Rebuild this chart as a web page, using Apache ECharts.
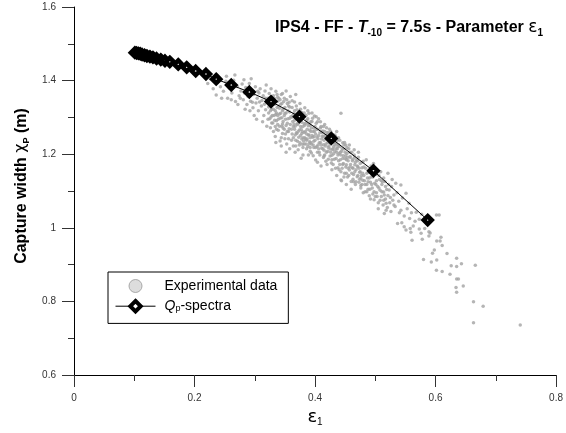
<!DOCTYPE html>
<html>
<head>
<meta charset="utf-8">
<script src="https://cdn.jsdelivr.net/npm/echarts@6/dist/echarts.min.js"></script>
<style>html,body{margin:0;padding:0;background:#fff;}#c{width:566px;height:433px;}</style>
</head>
<body>
<div id="c"></div>
<script>
// Q_p-spectra curve (epsilon_1, capture width)
const qpX = [0.101,0.104,0.107,0.110,0.113,0.117,0.121,0.126,0.131,0.137,0.144,0.151,0.159,0.173,0.187,0.202,0.219,0.236,0.261,0.291,0.327,0.374,0.427,0.497,0.587];
const qpY = [1.476,1.475,1.474,1.473,1.471,1.469,1.467,1.465,1.463,1.460,1.457,1.454,1.451,1.444,1.436,1.426,1.418,1.404,1.388,1.369,1.343,1.302,1.243,1.155,1.021];

const expPoints = [
[0.222,1.392],[0.231,1.378],[0.236,1.361],[0.243,1.383],[0.248,1.371],[0.252,1.398],[0.255,1.352],[0.258,1.379],[0.262,1.366],[0.265,1.401],[0.268,1.343],[0.271,1.384],[0.274,1.359],[0.277,1.372],[0.279,1.391],
[0.226,1.405],[0.238,1.395],[0.245,1.352],[0.253,1.412],[0.261,1.348],[0.267,1.415],[0.272,1.335],[0.282,1.402],[0.294,1.405],
[0.281,1.348],[0.283,1.366],[0.285,1.381],[0.287,1.335],[0.289,1.357],[0.291,1.392],[0.293,1.344],[0.295,1.371],[0.297,1.326],[0.298,1.362],[0.301,1.383],[0.302,1.339],[0.304,1.352],[0.306,1.318],[0.307,1.366],[0.309,1.378],[0.311,1.331],[0.312,1.346],[0.314,1.359],[0.315,1.305],[0.317,1.372],[0.318,1.321],[0.319,1.388],
[0.284,1.322],[0.292,1.318],[0.296,1.341],[0.299,1.305],[0.303,1.295],[0.308,1.342],[0.313,1.288],[0.316,1.336],[0.320,1.276],[0.305,1.371],[0.288,1.375],[0.276,1.352],
[0.321,1.341],[0.322,1.352],[0.323,1.312],[0.324,1.365],[0.325,1.296],[0.326,1.333],[0.327,1.378],[0.328,1.322],[0.329,1.347],[0.330,1.285],[0.331,1.359],[0.332,1.305],[0.333,1.336],[0.334,1.318],[0.335,1.371],[0.336,1.291],[0.337,1.327],[0.338,1.344],[0.339,1.265],[0.340,1.352],[0.341,1.309],[0.342,1.298],[0.343,1.336],[0.344,1.362],[0.345,1.276],[0.346,1.318],[0.347,1.289],[0.348,1.343],[0.349,1.305],[0.350,1.327],[0.351,1.255],[0.352,1.312],[0.353,1.348],[0.354,1.284],[0.355,1.296],[0.356,1.331],[0.357,1.269],[0.358,1.315],[0.359,1.357],[0.360,1.302],
[0.323,1.328],[0.327,1.301],[0.331,1.322],[0.335,1.308],[0.339,1.331],[0.343,1.311],[0.347,1.322],[0.351,1.295],[0.355,1.318],[0.359,1.281],[0.333,1.351],[0.341,1.276],[0.349,1.268],[0.357,1.341],[0.345,1.299],[0.337,1.362],
[0.331,1.262],[0.334,1.248],[0.338,1.281],[0.342,1.236],[0.346,1.256],[0.350,1.242],[0.353,1.228],[0.356,1.262],[0.358,1.215],[0.361,1.238],[0.364,1.222],[0.367,1.205],[0.370,1.256],[0.372,1.212],[0.335,1.232],[0.344,1.222],[0.352,1.205],[0.347,1.271],[0.339,1.295],[0.326,1.272],[0.329,1.305],[0.333,1.292],[0.336,1.312],[0.341,1.325],[0.345,1.338],[0.349,1.352],[0.354,1.338],[0.358,1.328],[0.362,1.345],[0.366,1.292],[0.371,1.298],[0.324,1.345],[0.338,1.355],[0.346,1.365],
[0.318,1.352],[0.322,1.295],[0.326,1.318],[0.330,1.338],[0.334,1.275],[0.338,1.305],[0.342,1.348],[0.346,1.282],[0.350,1.311],[0.354,1.262],[0.358,1.298],[0.362,1.255],[0.366,1.268],[0.370,1.282],[0.374,1.225],[0.378,1.256],[0.382,1.228],[0.386,1.238],[0.390,1.252],[0.394,1.228],[0.398,1.235],
[0.344,1.245],[0.356,1.242],[0.368,1.222],[0.380,1.245],[0.392,1.218],[0.328,1.285],[0.336,1.268],[0.352,1.278],[0.364,1.275],[0.376,1.305],[0.388,1.285],
[0.361,1.268],[0.362,1.327],[0.363,1.289],[0.364,1.245],[0.365,1.311],[0.366,1.342],[0.367,1.276],[0.368,1.298],[0.369,1.258],[0.370,1.321],[0.371,1.235],[0.372,1.284],[0.373,1.305],[0.374,1.266],[0.375,1.338],[0.376,1.251],[0.377,1.292],[0.378,1.313],[0.379,1.227],[0.380,1.275],[0.381,1.301],[0.382,1.259],[0.383,1.326],[0.384,1.242],[0.385,1.284],[0.386,1.215],[0.387,1.268],[0.388,1.296],[0.389,1.252],[0.390,1.311],[0.391,1.234],[0.392,1.278],[0.393,1.262],[0.394,1.203],[0.395,1.289],[0.396,1.246],[0.397,1.225],[0.398,1.271],[0.399,1.304],[0.400,1.238],
[0.363,1.305],[0.367,1.252],[0.371,1.281],[0.375,1.296],[0.379,1.262],[0.383,1.279],[0.387,1.241],[0.391,1.265],[0.395,1.251],[0.399,1.262],[0.365,1.282],[0.369,1.331],[0.373,1.246],[0.377,1.268],[0.381,1.236],[0.385,1.306],[0.389,1.277],[0.393,1.288],[0.397,1.262],[0.362,1.301],[0.366,1.318],[0.374,1.288],[0.378,1.241],[0.382,1.283],[0.386,1.255],[0.390,1.228],[0.394,1.271],[0.398,1.218],[0.368,1.238],[0.376,1.322],[0.384,1.262],[0.392,1.245],[0.368,1.362],[0.352,1.372],
[0.372,1.262],[0.375,1.231],[0.378,1.287],[0.380,1.218],[0.383,1.245],[0.386,1.292],[0.388,1.221],[0.391,1.282],[0.393,1.232],[0.396,1.298],[0.398,1.248],[0.401,1.218],[0.404,1.288],[0.406,1.215],[0.408,1.198],[0.411,1.241],[0.414,1.226],[0.416,1.262],[0.418,1.181],[0.421,1.252],[0.380,1.198],[0.385,1.228],[0.392,1.208],[0.397,1.196],[0.404,1.178],[0.410,1.168],[0.415,1.195],[0.420,1.172],[0.376,1.275],[0.382,1.312],[0.388,1.318],[0.395,1.312],[0.402,1.302],[0.409,1.288],[0.414,1.275],[0.419,1.272],
[0.401,1.255],[0.402,1.284],[0.403,1.221],[0.404,1.268],[0.405,1.242],[0.406,1.296],[0.407,1.205],[0.408,1.258],[0.409,1.232],[0.410,1.275],[0.411,1.216],[0.412,1.249],[0.413,1.263],[0.414,1.191],[0.415,1.238],[0.416,1.281],[0.417,1.222],[0.418,1.247],[0.419,1.205],[0.420,1.259],[0.421,1.232],[0.422,1.186],[0.423,1.241],[0.424,1.268],[0.425,1.214],[0.426,1.228],[0.427,1.253],[0.428,1.197],[0.429,1.235],[0.430,1.172],[0.431,1.221],[0.432,1.246],[0.433,1.208],[0.434,1.231],[0.435,1.188],[0.436,1.262],[0.437,1.215],[0.438,1.163],[0.439,1.226],[0.440,1.201],
[0.403,1.247],[0.407,1.231],[0.411,1.262],[0.415,1.211],[0.419,1.241],[0.423,1.222],[0.427,1.232],[0.431,1.201],[0.435,1.215],[0.439,1.182],[0.405,1.225],[0.409,1.271],[0.413,1.215],[0.417,1.252],[0.421,1.208],[0.425,1.245],[0.429,1.213],[0.433,1.225],[0.437,1.238],[0.443,1.311],[0.443,1.130],[0.377,1.189],[0.401,1.184],[0.389,1.198],
[0.402,1.268],[0.406,1.251],[0.410,1.225],[0.414,1.248],[0.418,1.228],[0.422,1.258],[0.426,1.205],[0.430,1.215],[0.434,1.248],[0.438,1.221],[0.404,1.205],[0.416,1.198],[0.428,1.185],[0.400,1.275],[0.412,1.258],[0.424,1.252],[0.436,1.228],
[0.422,1.218],[0.425,1.195],[0.427,1.176],[0.430,1.232],[0.432,1.186],[0.434,1.162],[0.436,1.205],[0.439,1.245],[0.441,1.172],[0.443,1.152],[0.446,1.188],[0.448,1.138],[0.451,1.165],[0.453,1.218],[0.456,1.142],[0.458,1.205],[0.461,1.148],[0.463,1.132],[0.466,1.192],[0.468,1.125],[0.426,1.262],[0.433,1.252],[0.441,1.238],[0.449,1.232],[0.457,1.225],[0.465,1.212],[0.428,1.158],[0.436,1.142],[0.444,1.128],[0.452,1.118],[0.460,1.105],[0.424,1.232],[0.431,1.238],[0.438,1.198],[0.445,1.215],[0.452,1.185],
[0.441,1.221],[0.442,1.185],[0.444,1.208],[0.445,1.162],[0.446,1.231],[0.447,1.196],[0.448,1.214],[0.449,1.148],[0.450,1.188],[0.451,1.225],[0.452,1.171],[0.453,1.202],[0.454,1.138],[0.455,1.182],[0.456,1.215],[0.457,1.157],[0.458,1.194],[0.459,1.172],[0.460,1.126],[0.461,1.205],[0.462,1.163],[0.463,1.186],[0.464,1.145],[0.465,1.198],[0.466,1.171],[0.467,1.118],[0.468,1.158],[0.469,1.184],[0.470,1.139],[0.471,1.166],[0.472,1.192],[0.473,1.124],[0.474,1.151],[0.475,1.175],[0.476,1.108],[0.477,1.142],[0.478,1.163],[0.479,1.129],[0.480,1.181],
[0.443,1.198],[0.447,1.175],[0.451,1.196],[0.455,1.162],[0.459,1.191],[0.463,1.162],[0.467,1.178],[0.471,1.142],[0.475,1.152],[0.479,1.148],
[0.442,1.205],[0.446,1.172],[0.450,1.205],[0.454,1.191],[0.458,1.165],[0.462,1.182],[0.466,1.152],[0.470,1.168],[0.474,1.132],[0.478,1.178],[0.440,1.158],[0.452,1.148],[0.464,1.125],[0.476,1.115],[0.448,1.225],
[0.471,1.182],[0.473,1.162],[0.476,1.135],[0.478,1.118],[0.481,1.165],[0.483,1.098],[0.486,1.148],[0.488,1.125],[0.491,1.105],[0.493,1.138],[0.496,1.092],[0.498,1.158],[0.501,1.118],[0.503,1.085],[0.506,1.142],[0.508,1.075],[0.511,1.098],[0.514,1.135],[0.517,1.112],[0.521,1.088],[0.524,1.068],[0.527,1.112],[0.472,1.205],[0.485,1.185],[0.497,1.175],[0.509,1.152],[0.480,1.095],[0.492,1.078],[0.505,1.052],[0.518,1.048],
[0.482,1.128],[0.486,1.118],[0.490,1.135],[0.494,1.118],[0.498,1.098],[0.502,1.128],[0.506,1.108],[0.510,1.128],[0.514,1.075],[0.488,1.105],[0.500,1.085],
[0.481,1.142],[0.483,1.118],[0.484,1.162],[0.486,1.098],[0.487,1.135],[0.489,1.151],[0.490,1.087],[0.492,1.124],[0.493,1.168],[0.495,1.108],[0.496,1.138],[0.498,1.076],[0.499,1.121],[0.501,1.145],[0.502,1.095],[0.504,1.112],[0.505,1.068],[0.507,1.131],[0.508,1.102],[0.510,1.085],[0.511,1.118],[0.513,1.062],[0.514,1.097],[0.516,1.126],[0.517,1.078],[0.519,1.104],[0.520,1.055],
[0.512,1.125],[0.515,1.089],[0.523,1.103],[0.531,1.089],[0.551,1.094],[0.5425,1.116],[0.556,1.067],[0.531,1.062],[0.529,1.075],[0.518,1.067],[0.5425,1.048],[0.526,1.044],[0.515,1.039],[0.540,1.041],[0.560,1.041],[0.577,1.037],[0.6015,1.035],[0.606,1.035],[0.566,1.018],[0.573,1.023],[0.537,1.012],[0.544,1.014],[0.548,1.003],[0.558,0.998],[0.573,0.997],[0.551,0.994],[0.559,0.988],[0.576,0.985],[0.589,0.989],[0.591,0.986],[0.589,0.978],[0.561,0.966],[0.578,0.969],[0.609,0.974],[0.602,0.964],[0.6076,0.964],[0.611,0.952],[0.598,0.940],[0.595,0.931],[0.619,0.930],[0.635,0.917],[0.580,0.914],[0.602,0.9125],[0.593,0.907],[0.626,0.897],[0.635,0.895],[0.643,0.902],[0.666,0.898],[0.6015,0.8845],[0.611,0.881],[0.624,0.874],[0.635,0.861],[0.638,0.861],[0.646,0.842],[0.634,0.838],[0.635,0.825],[0.663,0.799],[0.679,0.787],[0.663,0.742],[0.7406,0.736],
[0.522,1.118],[0.525,1.082],[0.528,1.131],[0.533,1.058],[0.536,1.095],[0.539,1.072],[0.545,1.081],[0.548,1.032],[0.553,1.052],[0.557,1.025],[0.563,1.005],[0.568,1.042],[0.582,0.998],[0.585,1.012],[0.521,1.148],[0.534,1.121]
];

const xTicks = {min: 0, max: 0.8, interval: 0.2};
const yTicks = {min: 0.6, max: 1.6, interval: 0.2};

const FONT = "'Liberation Sans', Arial, sans-serif";
const chart = echarts.init(document.getElementById('c'), null, {renderer: 'canvas'});

const axisCommon = {
  axisLine: {show: true, onZero: false, lineStyle: {color: '#000', width: 1}},
  axisTick: {show: true, length: 12, lineStyle: {color: '#333', width: 1}},
  minorTick: {show: true, splitNumber: 2, length: 6, lineStyle: {color: '#333', width: 1}},
  splitLine: {show: false},
  axisLabel: {fontSize: 10, color: '#333', fontFamily: FONT, margin: 18}
};

chart.setOption({
  animation: false,
  backgroundColor: '#fff',
  textStyle: {fontFamily: FONT},
  title: {
    text: '{b|IPS4 - FF - }{bi|T}{bs|-10}{b| = 7.5s - Parameter }{e|ε}{bs|1}',
    right: 18, top: 13,
    textStyle: {
      rich: {
        b: {fontSize: 16, fontWeight: 'bold', color: '#000', fontFamily: FONT, lineHeight: 20},
        bi: {fontSize: 16, fontWeight: 'bold', fontStyle: 'italic', color: '#000', fontFamily: FONT, lineHeight: 20},
        bs: {fontSize: 10, fontWeight: 'bold', color: '#000', fontFamily: FONT, lineHeight: 10, verticalAlign: 'bottom'},
        e: {fontSize: 17, fontWeight: 'normal', color: '#000', fontFamily: "'DejaVu Sans', sans-serif", lineHeight: 20}
      }
    }
  },
  grid: {left: 74, right: 9, top: 7, bottom: 58, containLabel: false},
  legend: {
    orient: 'vertical',
    left: 108, top: 272,
    borderColor: '#000', borderWidth: 1, borderRadius: 0,
    padding: [7, 11, 10, 7],
    itemGap: 6,
    itemWidth: 40, itemHeight: 13,
    textStyle: {
      fontSize: 14, color: '#000', fontFamily: FONT, padding: [0, 0, 0, 4],
      rich: {
        n: {fontSize: 14, color: '#000', fontFamily: FONT},
        i: {fontSize: 14, fontStyle: 'italic', color: '#000', fontFamily: FONT},
        s: {fontSize: 9, color: '#000', fontFamily: FONT, lineHeight: 9, verticalAlign: 'bottom'}
      }
    },
    formatter: function (name) {
      if (name === 'Qp-spectra') return '{i|Q}{s|p}{n|-spectra}';
      return '{n|' + name + '}';
    },
    data: [
      {name: 'Experimental data', icon: 'circle', itemStyle: {color: '#d4d4d4', borderColor: '#999', borderWidth: 1}},
      {name: 'Qp-spectra', lineStyle: {width: 1, color: '#000'}, itemStyle: {color: '#fff', borderColor: '#000', borderWidth: 4}}
    ]
  },
  xAxis: Object.assign({}, axisCommon, {
    type: 'value', min: xTicks.min, max: xTicks.max, interval: xTicks.interval,
    name: '{e|ε}{s|1}', nameLocation: 'middle', nameGap: 20,
    nameTextStyle: {
      rich: {
        e: {fontSize: 18, color: '#000', fontFamily: "'DejaVu Sans', sans-serif", lineHeight: 20},
        s: {fontSize: 10, color: '#000', fontFamily: FONT, lineHeight: 10, verticalAlign: 'bottom'}
      }
    }
  }),
  yAxis: Object.assign({}, axisCommon, {
    type: 'value', min: yTicks.min, max: yTicks.max, interval: yTicks.interval,
    name: '{b|Capture width }{g|χ}{s|P}{b| (m)}', nameLocation: 'middle', nameGap: 42,
    nameTextStyle: {
      padding: [0, 0, 0, 10],
      rich: {
        b: {fontSize: 16, fontWeight: 'bold', color: '#000', fontFamily: FONT, lineHeight: 20},
        g: {fontSize: 16, color: '#000', fontFamily: "'DejaVu Sans', sans-serif", lineHeight: 20},
        s: {fontSize: 9, fontWeight: 'bold', color: '#000', fontFamily: FONT, lineHeight: 9, verticalAlign: 'bottom'}
      }
    }
  }),
  series: [
    {
      name: 'Experimental data',
      type: 'scatter',
      symbol: 'circle',
      symbolSize: 3.5,
      itemStyle: {color: '#a3a3a3'},
      data: expPoints,
      z: 1
    },
    {
      name: 'Qp-spectra',
      type: 'line',
      symbol: 'diamond',
      symbolSize: 8,
      showAllSymbol: true,
      lineStyle: {color: '#000', width: 1},
      itemStyle: {color: '#fff', borderColor: '#000', borderWidth: 4.5},
      data: qpX.map((x, i) => [x, qpY[i]]),
      z: 3
    }
  ]
});
</script>
</body>
</html>
